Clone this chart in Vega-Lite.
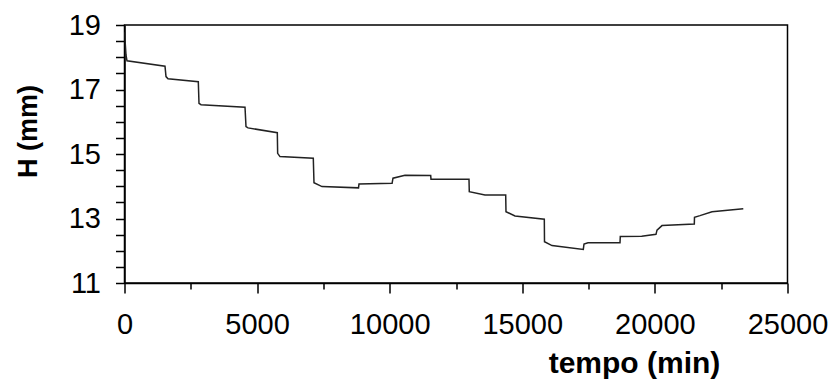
{
  "$schema": "https://vega.github.io/schema/vega-lite/v6.json",
  "width": 663,
  "height": 258,
  "autosize": {"type": "none"},
  "padding": {"left": 124.5, "top": 25, "right": 51.5, "bottom": 98},
  "background": "white",
  "config": {
    "view": {"stroke": "black", "strokeWidth": 1.5},
    "font": "Liberation Sans"
  },
  "data": {
    "values": [
      {"t": 0, "H": 18.78},
      {"t": 57, "H": 18.07},
      {"t": 94, "H": 17.89},
      {"t": 1527, "H": 17.72},
      {"t": 1565, "H": 17.4},
      {"t": 1640, "H": 17.33},
      {"t": 2783, "H": 17.24},
      {"t": 2809, "H": 16.57},
      {"t": 2885, "H": 16.53},
      {"t": 4544, "H": 16.45},
      {"t": 4581, "H": 15.85},
      {"t": 4657, "H": 15.81},
      {"t": 5762, "H": 15.66},
      {"t": 5775, "H": 15.02},
      {"t": 5863, "H": 14.92},
      {"t": 7119, "H": 14.87},
      {"t": 7145, "H": 14.11},
      {"t": 7447, "H": 13.99},
      {"t": 8824, "H": 13.95},
      {"t": 8842, "H": 14.07},
      {"t": 10090, "H": 14.09},
      {"t": 10124, "H": 14.25},
      {"t": 10577, "H": 14.34},
      {"t": 11546, "H": 14.33},
      {"t": 11557, "H": 14.22},
      {"t": 12990, "H": 14.22},
      {"t": 13001, "H": 13.83},
      {"t": 13593, "H": 13.73},
      {"t": 14374, "H": 13.73},
      {"t": 14385, "H": 13.21},
      {"t": 14725, "H": 13.08},
      {"t": 15830, "H": 12.98},
      {"t": 15837, "H": 12.28},
      {"t": 16120, "H": 12.16},
      {"t": 17300, "H": 12.04},
      {"t": 17327, "H": 12.21},
      {"t": 17477, "H": 12.25},
      {"t": 18684, "H": 12.25},
      {"t": 18695, "H": 12.44},
      {"t": 19502, "H": 12.45},
      {"t": 20041, "H": 12.51},
      {"t": 20079, "H": 12.64},
      {"t": 20268, "H": 12.78},
      {"t": 21486, "H": 12.83},
      {"t": 21493, "H": 13.04},
      {"t": 21700, "H": 13.09},
      {"t": 22153, "H": 13.21},
      {"t": 23333, "H": 13.3}
    ]
  },
  "mark": {"type": "line", "color": "#222222", "strokeWidth": 1.5, "clip": true},
  "encoding": {
    "x": {
      "field": "t",
      "type": "quantitative",
      "scale": {"domain": [0, 25000], "nice": false, "zero": false},
      "axis": {
        "title": "tempo (min)",
        "values": [0, 2500, 5000, 7500, 10000, 12500, 15000, 17500, 20000, 22500, 25000],
        "labelExpr": "datum.value % 5000 == 0 ? datum.label : ''",
        "format": "d",
        "grid": false,
        "domainColor": "black",
        "domainWidth": 1.5,
        "tickColor": "black",
        "tickWidth": 1.5,
        "tickSize": {"condition": {"test": "datum.value % 5000 == 0", "value": 10}, "value": 6},
        "labelFont": "Liberation Sans",
        "labelFontSize": 29,
        "labelColor": "black",
        "labelPadding": 17,
        "labelFlush": false,
        "labelOverlap": false,
        "titleFont": "Liberation Sans",
        "titleFontSize": 30,
        "titleFontWeight": "bold",
        "titleColor": "black",
        "titleAnchor": "start",
        "titleAlign": "center",
        "titleBaseline": "alphabetic",
        "titleX": 509.5,
        "titleY": 89
      }
    },
    "y": {
      "field": "H",
      "type": "quantitative",
      "scale": {"domain": [11, 19], "nice": false, "zero": false},
      "axis": {
        "title": "H (mm)",
        "values": [11, 11.5, 12, 12.5, 13, 13.5, 14, 14.5, 15, 15.5, 16, 16.5, 17, 17.5, 18, 18.5, 19],
        "labelExpr": "datum.value % 2 == 1 ? format(datum.value, 'd') : ''",
        "grid": false,
        "domainColor": "black",
        "domainWidth": 1.5,
        "tickColor": "black",
        "tickWidth": 1.5,
        "tickSize": 9,
        "labelFont": "Liberation Sans",
        "labelFontSize": 29,
        "labelColor": "black",
        "labelPadding": 15,
        "labelFlush": false,
        "labelOverlap": false,
        "titleFont": "Liberation Sans",
        "titleFontSize": 27,
        "titleFontWeight": "bold",
        "titleColor": "black",
        "titleAngle": 270,
        "titleAlign": "center",
        "titleAnchor": "start",
        "titleBaseline": "alphabetic",
        "titleX": -88,
        "titleY": 106
      }
    }
  }
}
